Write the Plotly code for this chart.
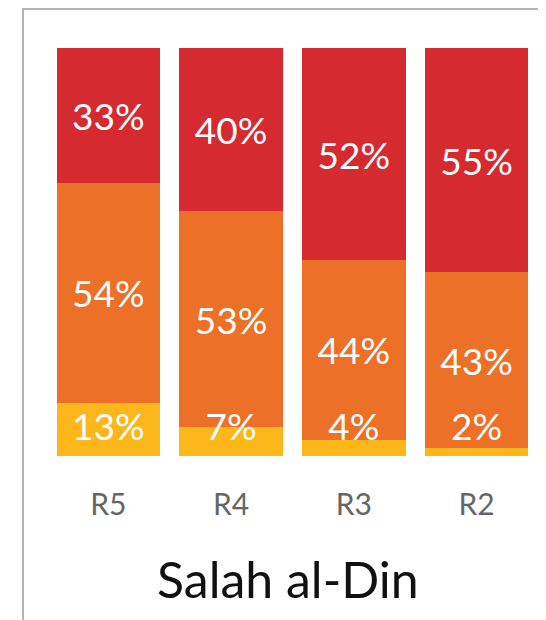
import plotly.graph_objects as go

categories = ["R5", "R4", "R3", "R2"]
yellow_vals = [13, 7, 4, 2]
orange_vals = [54, 53, 44, 43]
red_vals = [33, 40, 52, 55]
title_text = "Salah al-Din"

RED = "#D62A31"
ORANGE = "#EC7027"
YELLOW = "#FDB71B"
FONT = "Lato, 'Open Sans', sans-serif"

# page body adds an 8px offset; work in reference pixel coords and shift
OFF = 8
W, H = 546 - OFF, 620 - OFF
ml, mr, mt, mb = 47 - OFF, 8, 48 - OFF, 164
pw, ph = W - ml - mr, H - mt - mb

fig = go.Figure()
fig.add_bar(x=categories, y=yellow_vals, marker_color=YELLOW, textposition="none",
            marker_line_width=0, hoverinfo="skip")
for vals, col in [(orange_vals, ORANGE), (red_vals, RED)]:
    fig.add_bar(x=categories, y=vals, marker_color=col, marker_line_width=0,
                text=[f"{v}%" for v in vals], textposition="inside",
                insidetextanchor="middle", constraintext="none",
                textfont=dict(color="white", size=37, family=FONT))
# yellow labels sit at a fixed height near the base
fig.add_scatter(x=categories, y=[6.2] * len(categories), mode="text",
                text=[f"{v}%" for v in yellow_vals],
                textfont=dict(color="white", size=37, family=FONT), cliponaxis=False)

def px2x(px):
    return (px - OFF - ml) / pw

def px2y(py):
    return (H - mb - (py - OFF)) / ph

fig.update_layout(
    width=W, height=H, barmode="stack", bargap=0.155, showlegend=False,
    margin=dict(l=ml, r=mr, t=mt, b=mb),
    paper_bgcolor="white", plot_bgcolor="white",
    xaxis=dict(showgrid=False, zeroline=False, showline=False, ticks="",
               ticklabelstandoff=28,
               tickfont=dict(size=30, color="#666666", family=FONT)),
    yaxis=dict(range=[0, 100], visible=False),
    shapes=[
        dict(type="line", xref="paper", yref="paper", x0=px2x(22), x1=px2x(560),
             y0=px2y(9), y1=px2y(9), line=dict(color="#b5b5b5", width=2)),
        dict(type="line", xref="paper", yref="paper", x0=px2x(23), x1=px2x(23),
             y0=px2y(8), y1=px2y(640), line=dict(color="#b5b5b5", width=2)),
    ],
    annotations=[dict(text=title_text, xref="paper", yref="paper",
                      x=px2x(288), y=px2y(579), showarrow=False,
                      xanchor="center", yanchor="middle",
                      font=dict(size=50, color="#111111", family=FONT))],
)

fig.write_html("out.html")
